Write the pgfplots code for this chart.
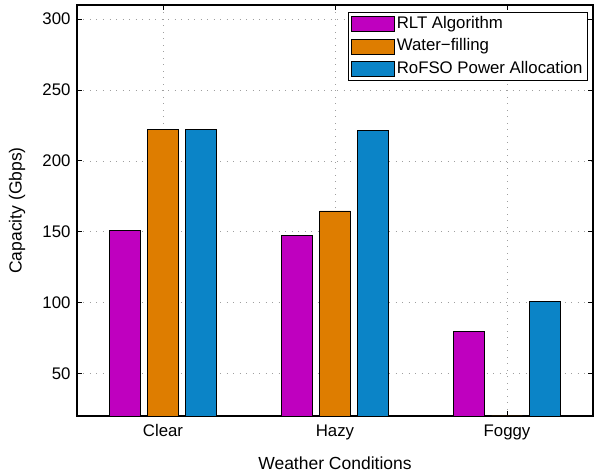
\documentclass[border=0pt]{standalone}
\usepackage{pgfplots}
\pgfplotsset{compat=1.18}
\usepackage{fontspec}
\setmainfont{Liberation Sans}
\definecolor{rlt}{RGB}{191,0,191}
\definecolor{wf}{RGB}{222,125,0}
\definecolor{rof}{RGB}{11,132,199}
\begin{document}
\begin{tikzpicture}[x=1bp,y=1bp]
\begin{axis}[
  at={(0,0)}, anchor=south west,
  scale only axis, width=516bp, height=411bp,
  xmin=0.5, xmax=3.5, ymin=20, ymax=310,
  xtick={1,2,3}, xticklabels={Clear,Hazy,Foggy},
  ytick={50,100,...,300},
  ybar=7.5bp, bar width=30.7bp,
  tick align=inside, major tick length=5bp,
  tick pos=both, xticklabel pos=lower, yticklabel pos=left,
  grid=major,
  major grid style={gray!75, line width=0.6bp, dash pattern=on 0.8bp off 5.7bp},
  axis line style={black, line width=1.1bp},
  every tick/.style={black, line width=0.8bp},
  /pgf/number format/assume math mode=true,
  tick label style={font=\fontsize{16.8bp}{20bp}\selectfont, black},
  yticklabel style={xshift=-3bp},
  xticklabel style={anchor=base, yshift=-21bp},
  xlabel={Weather Conditions}, ylabel={Capacity (Gbps)},
  label style={font=\fontsize{17.5bp}{20bp}\selectfont, black},
  xlabel style={at={(axis description cs:0.5,-0.129)}, anchor=base},
  ylabel style={at={(axis description cs:-0.1163,0.5)}, anchor=center},
  legend cell align=left,
  legend style={at={(axis description cs:0.9903,0.983)}, anchor=north east,
    draw=black, line width=0.8bp, font=\fontsize{16.8bp}{20bp}\selectfont,
    inner xsep=3bp, inner ysep=2.5bp, row sep=4bp,
    nodes={inner ysep=1.5bp, text height=12bp, text depth=3.5bp}},
  legend image code/.code={\draw[#1,/tikz/.cd] (0bp,-7.5bp) rectangle (42.7bp,7.5bp);},
]
\addplot[fill=rlt, draw=black, line width=0.8bp] coordinates {(1,151) (2,147.3) (3,79.4)};
\addplot[fill=wf, draw=black, line width=0.8bp] coordinates {(1,222.3) (2,164.7) (3,0)};
\addplot[fill=rof, draw=black, line width=0.8bp] coordinates {(1,222.3) (2,221.7) (3,100.7)};
\legend{RLT Algorithm, Water−filling, RoFSO Power Allocation}
\end{axis}
\pgfresetboundingbox
\path[use as bounding box] (-77,-59) rectangle (517,416);
\end{tikzpicture}
\end{document}
